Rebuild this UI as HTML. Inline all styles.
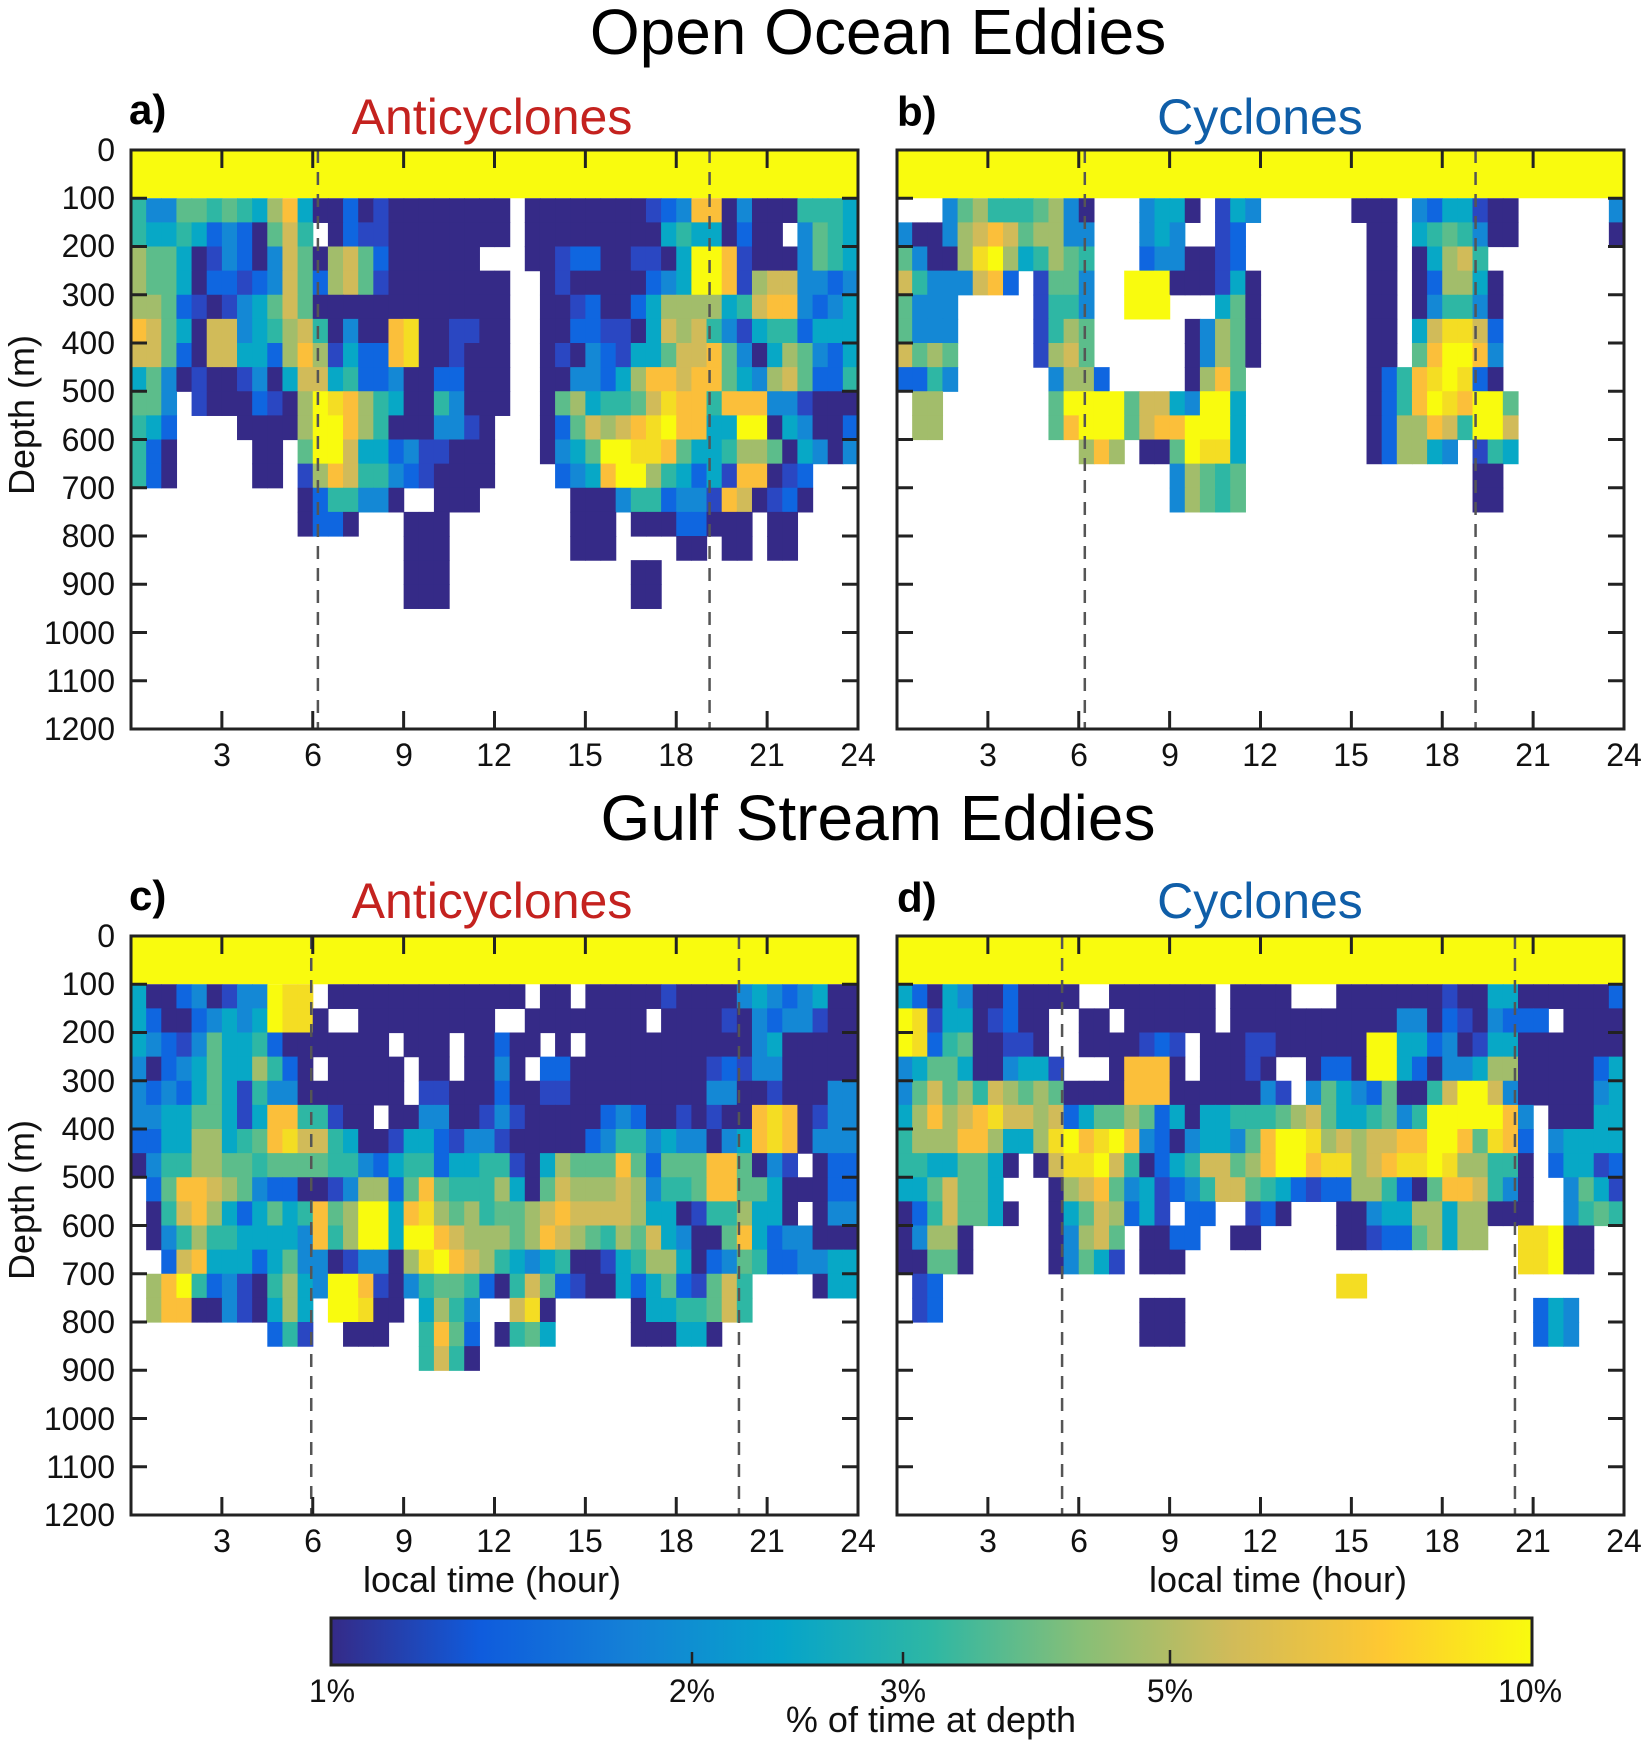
<!DOCTYPE html>
<html><head><meta charset="utf-8"><style>
html,body{margin:0;padding:0;background:#fff;}
svg{display:block;font-family:"Liberation Sans",Arial,sans-serif;}
</style></head><body>
<svg id="s" width="1650" height="1748" viewBox="0 0 1650 1748" xmlns="http://www.w3.org/2000/svg">
<defs>
<linearGradient id="par" x1="0" x2="1" y1="0" y2="0">
<stop offset="0" stop-color="#352a87"/><stop offset="0.125" stop-color="#0f5cdd"/><stop offset="0.25" stop-color="#1481d6"/><stop offset="0.375" stop-color="#06a4ca"/><stop offset="0.5" stop-color="#2eb7a4"/><stop offset="0.625" stop-color="#87bf77"/><stop offset="0.75" stop-color="#d1bb59"/><stop offset="0.875" stop-color="#fec832"/><stop offset="1" stop-color="#f9fb0e"/>
</linearGradient>
</defs>
<g id="cells"></g>
<g id="axes" stroke="#222" fill="none"></g>
<g font-size="64" text-anchor="middle" fill="#000">
<text x="878" y="54">Open Ocean Eddies</text>
<text x="878" y="840">Gulf Stream Eddies</text>
</g>
<g font-size="42" font-weight="bold" fill="#000">
<text x="129" y="124">a)</text><text x="897" y="126">b)</text>
<text x="129" y="910">c)</text><text x="897" y="912">d)</text>
</g>
<g font-size="50" text-anchor="middle">
<text x="492" y="134" fill="#c4221f">Anticyclones</text>
<text x="1260" y="134" fill="#0f5ea8">Cyclones</text>
<text x="492" y="918" fill="#c4221f">Anticyclones</text>
<text x="1260" y="918" fill="#0f5ea8">Cyclones</text>
</g>
<g font-size="32" text-anchor="end" fill="#111">
<text x="115" y="161">0</text><text x="115" y="209">100</text><text x="115" y="257">200</text><text x="115" y="306">300</text><text x="115" y="354">400</text><text x="115" y="402">500</text><text x="115" y="451">600</text><text x="115" y="499">700</text><text x="115" y="547">800</text><text x="115" y="595">900</text><text x="115" y="644">1000</text><text x="115" y="692">1100</text><text x="115" y="740">1200</text>
<text x="115" y="947">0</text><text x="115" y="995">100</text><text x="115" y="1043">200</text><text x="115" y="1092">300</text><text x="115" y="1140">400</text><text x="115" y="1188">500</text><text x="115" y="1237">600</text><text x="115" y="1285">700</text><text x="115" y="1333">800</text><text x="115" y="1381">900</text><text x="115" y="1430">1000</text><text x="115" y="1478">1100</text><text x="115" y="1526">1200</text>
</g>
<g font-size="32" text-anchor="middle" fill="#111">
<text x="222" y="766">3</text><text x="313" y="766">6</text><text x="404" y="766">9</text><text x="494" y="766">12</text><text x="585" y="766">15</text><text x="676" y="766">18</text><text x="767" y="766">21</text><text x="858" y="766">24</text>
<text x="988" y="766">3</text><text x="1079" y="766">6</text><text x="1170" y="766">9</text><text x="1260" y="766">12</text><text x="1351" y="766">15</text><text x="1442" y="766">18</text><text x="1533" y="766">21</text><text x="1624" y="766">24</text>
<text x="222" y="1552">3</text><text x="313" y="1552">6</text><text x="404" y="1552">9</text><text x="494" y="1552">12</text><text x="585" y="1552">15</text><text x="676" y="1552">18</text><text x="767" y="1552">21</text><text x="858" y="1552">24</text>
<text x="988" y="1552">3</text><text x="1079" y="1552">6</text><text x="1170" y="1552">9</text><text x="1260" y="1552">12</text><text x="1351" y="1552">15</text><text x="1442" y="1552">18</text><text x="1533" y="1552">21</text><text x="1624" y="1552">24</text>
</g>
<g font-size="36" fill="#111" text-anchor="middle">
<text transform="translate(34,415) rotate(-90)">Depth (m)</text>
<text transform="translate(34,1200) rotate(-90)">Depth (m)</text>
<text x="492" y="1592">local time (hour)</text>
<text x="1278" y="1592">local time (hour)</text>
<text x="931" y="1732">% of time at depth</text>
</g>
<rect x="331" y="1618" width="1201" height="47" fill="url(#par)" stroke="#222" stroke-width="3"/>
<g stroke="#222" stroke-width="2.5">
<line x1="692" y1="1664" x2="692" y2="1652"/><line x1="903" y1="1664" x2="903" y2="1652"/><line x1="1170" y1="1664" x2="1170" y2="1650"/>
</g>
<g font-size="32" text-anchor="middle" fill="#111">
<text x="332" y="1702">1%</text><text x="692" y="1702">2%</text><text x="903" y="1702">3%</text><text x="1170" y="1702">5%</text><text x="1530" y="1702">10%</text>
</g>
</svg>
<script>
(function(){
var C={'0':'#352a87','1':'#2a47c2','2':'#0f66e0','3':'#1488d5','4':'#07a8c6','5':'#2eb7a4','6':'#5cbd8b','7':'#a2bd6b','8':'#d1bb59','9':'#fbbf3a','a':'#f4dd23','b':'#f9fb0e'};
function D(n){return '.'.repeat(n);}
var A=[
"533665654794"+"0020100000000"+"."+"00000000"+"12399030005554",
"544542320685"+"."+"021100000000"+"."+"000000000"+"45440200.3654",
"766401320386"+"07862"+"000000"+"..."+"00122001104bb910003654",
"766402212386"+"27861"+"00000000"+".."+"0100000"+"234bb917883323",
"776210134686"+"0000000000000"+".."+"001200247777458993234",
"986408834578"+"503009a001100"+".."+"002211048785314552444",
"886208844279"+"714229a001000"+".."+"010321446889630476324",
"463010013048"+"8452230022000"+".."+"003324799899643786225",
"663.10002107"+"ba97540053000"+".."+"06745568a995999331000",
"542....00007"+"bb9750003310."+".."+"0268789ab9944bb043002",
"520.....00.6"+"bb8442311000."+".."+"0346bbaa9644577604303",
"520.....00.1"+"798553210000."+"..."+"2349bb75424199012...",
"..........."+"0255330..000"+"......"+"0003552331980120...",
"..........."+"0220...000"+"........"+"000.00022000.00....",
D(18)+"000"+D(8)+"000"+"...."+"00"+"."+"00"+"."+"00"+"....",
D(18)+"000"+D(12)+"00"+D(13),
D(18)+"000"+D(12)+"00"+D(13)];
var B=[
"...3675556730"+"...3440.143"+"......"+"000.3244100......3",
"3003789867733"+"...343..12."+"......."+"00.4565300......0",
"63007ab745765"+"...2330012."+"......."+"00.04785.........",
"85333892.1663"+"..bbb000140"+"......."+"00.027740........",
"6333.....1553"+"..bbb...460"+"......."+"00.035530........",
"6333.....1576"+"......03760"+"......."+"00.48aa82........",
"8676.....1786"+"......03760"+"......."+"00.69bb93........",
"2253......377"+"2.....0796."+"......."+"0259aba20........",
".77.......6bb"+"bb68843bb4."+"......."+"0259ba9bb6.......",
".77.......69b"+"bb6899bbb4."+"......."+"0277985bb8.......",
"............"+"797.006baa4."+"......."+"027743.154.......",
D(18)+"37656"+D(15)+"00"+D(8),
D(18)+"37656"+D(15)+"00"+D(8)];
var Cc=[
"400230133baa."+"0000000000000"+"."+"00.000001000034323400",
"420023434baa0"+"..000000000.."+"00000000.0000103233100",
"4321364452000"+"0000"+"."+"000"+"."+"00200"+"."+"0"+"."+"000000000003400000",
"302346447520."+"00000"+"."+"00"+"."+"0030"+"."+"220000000001213300000",
"3232464153300"+"00000"+"."+"11000200110000000003300100033",
"3344664149955"+"100.0033001310000023200101009a90133",
"2244774569a88"+"54001442133100000235534330349a90333",
"0355776656666"+"5532455244551047666962666996031.022",
".269987632200"+"13772696555740687778735569966400022",
".058974246459"+"67bb49a767566789888874401557440.033",
".035755444439"+"57bb4bb9877767987657684300694233000",
"..28944424633"+"013307ab987543450014577402365223344",
".79b523105743"+"bb91035665205862100424621685....044",
".79900310474."+"bba00.4753..8a0"+"....."+"04455685"+".......",
"........."+"251"+".."+"000"+".."+"5962"+"."+"0564"+"....."+"000"+"44"+"0"+".........",
D(19)+"5850"+D(25)];
var Dd=[
"420430020000.."+"0000000"+"."+"0000"+"..."+"0000000100440000002",
"ba14401200..00."+"000000"+"."+"00000000000"+"3302103222.0000",
"ba25600110.."+"0000121."+"00011000000"+"bb442301440000000",
"34664003441..."+"09990"+"."+"00010"+".."+"0220bb420334770000024",
"36867587676"+"0000999000000"+"31."+"3643260058bb830000034",
"479789a8878"+"246676240445556786445635bbbbb93.00044",
"5777997447a"+"b9ab9320344369bba7878899bb96a92.34444",
"55446640.08"+"aab85024588679bb9aa789aaba77550.24412",
"4468664...0"+"7896341235886542122775206998530..3641",
"02586640..0"+"4687241.22..120...0034477477000..3565",
"03770.....0"+"3786.0022..00.....0012267477..aab00..",
"00660.....0"+"3641.000"+D(22)+"aab00"+"..",
"."+"12"+D(26)+"aa"+D(17),
"."+"12"+D(13)+"000"+D(23)+"243"+"...",
D(16)+"000"+D(23)+"243"+"..."];
var NS="http://www.w3.org/2000/svg";
var cells=document.getElementById('cells'),axes=document.getElementById('axes');
function el(p,tag,at){var e=document.createElementNS(NS,tag);for(var k in at)e.setAttribute(k,at[k]);p.appendChild(e);return e;}
var W=727,H=579,cw=W/48,rh=H/24;
function panel(x0,y0,rows,d1,d2){
  el(cells,'rect',{x:x0,y:y0,width:W,height:rh*2,fill:'#f9fb0e'});
  for(var i=0;i<rows.length;i++){var r=rows[i];
    for(var j=0;j<48&&j<r.length;j++){var c=r[j];if(C[c]){
      el(cells,'rect',{x:(x0+j*cw).toFixed(2),y:(y0+(i+2)*rh).toFixed(2),width:(cw+0.6).toFixed(2),height:(rh+0.6).toFixed(2),fill:C[c]});}}}
  [d1,d2].forEach(function(h){var x=x0+h/24*W;
    el(axes,'line',{x1:x,y1:y0,x2:x,y2:y0+H,stroke:'#555','stroke-width':2.5,'stroke-dasharray':'13,9'});});
  for(var h=3;h<24;h+=3){var x=x0+h/24*W;
    el(axes,'line',{x1:x,y1:y0+H,x2:x,y2:y0+H-18,'stroke-width':3});
    el(axes,'line',{x1:x,y1:y0,x2:x,y2:y0+18,'stroke-width':3});}
  for(var k=1;k<12;k++){var y=y0+k*H/12;
    el(axes,'line',{x1:x0,y1:y,x2:x0+16,y2:y,'stroke-width':3});
    el(axes,'line',{x1:x0+W,y1:y,x2:x0+W-16,y2:y,'stroke-width':3});}
  el(axes,'rect',{x:x0,y:y0,width:W,height:H,'stroke-width':3});
}
panel(131,150,A,6.17,19.1);
panel(897,150,B,6.2,19.1);
panel(131,936,Cc,5.95,20.07);
panel(897,936,Dd,5.45,20.4);
})();
</script>
</body></html>
